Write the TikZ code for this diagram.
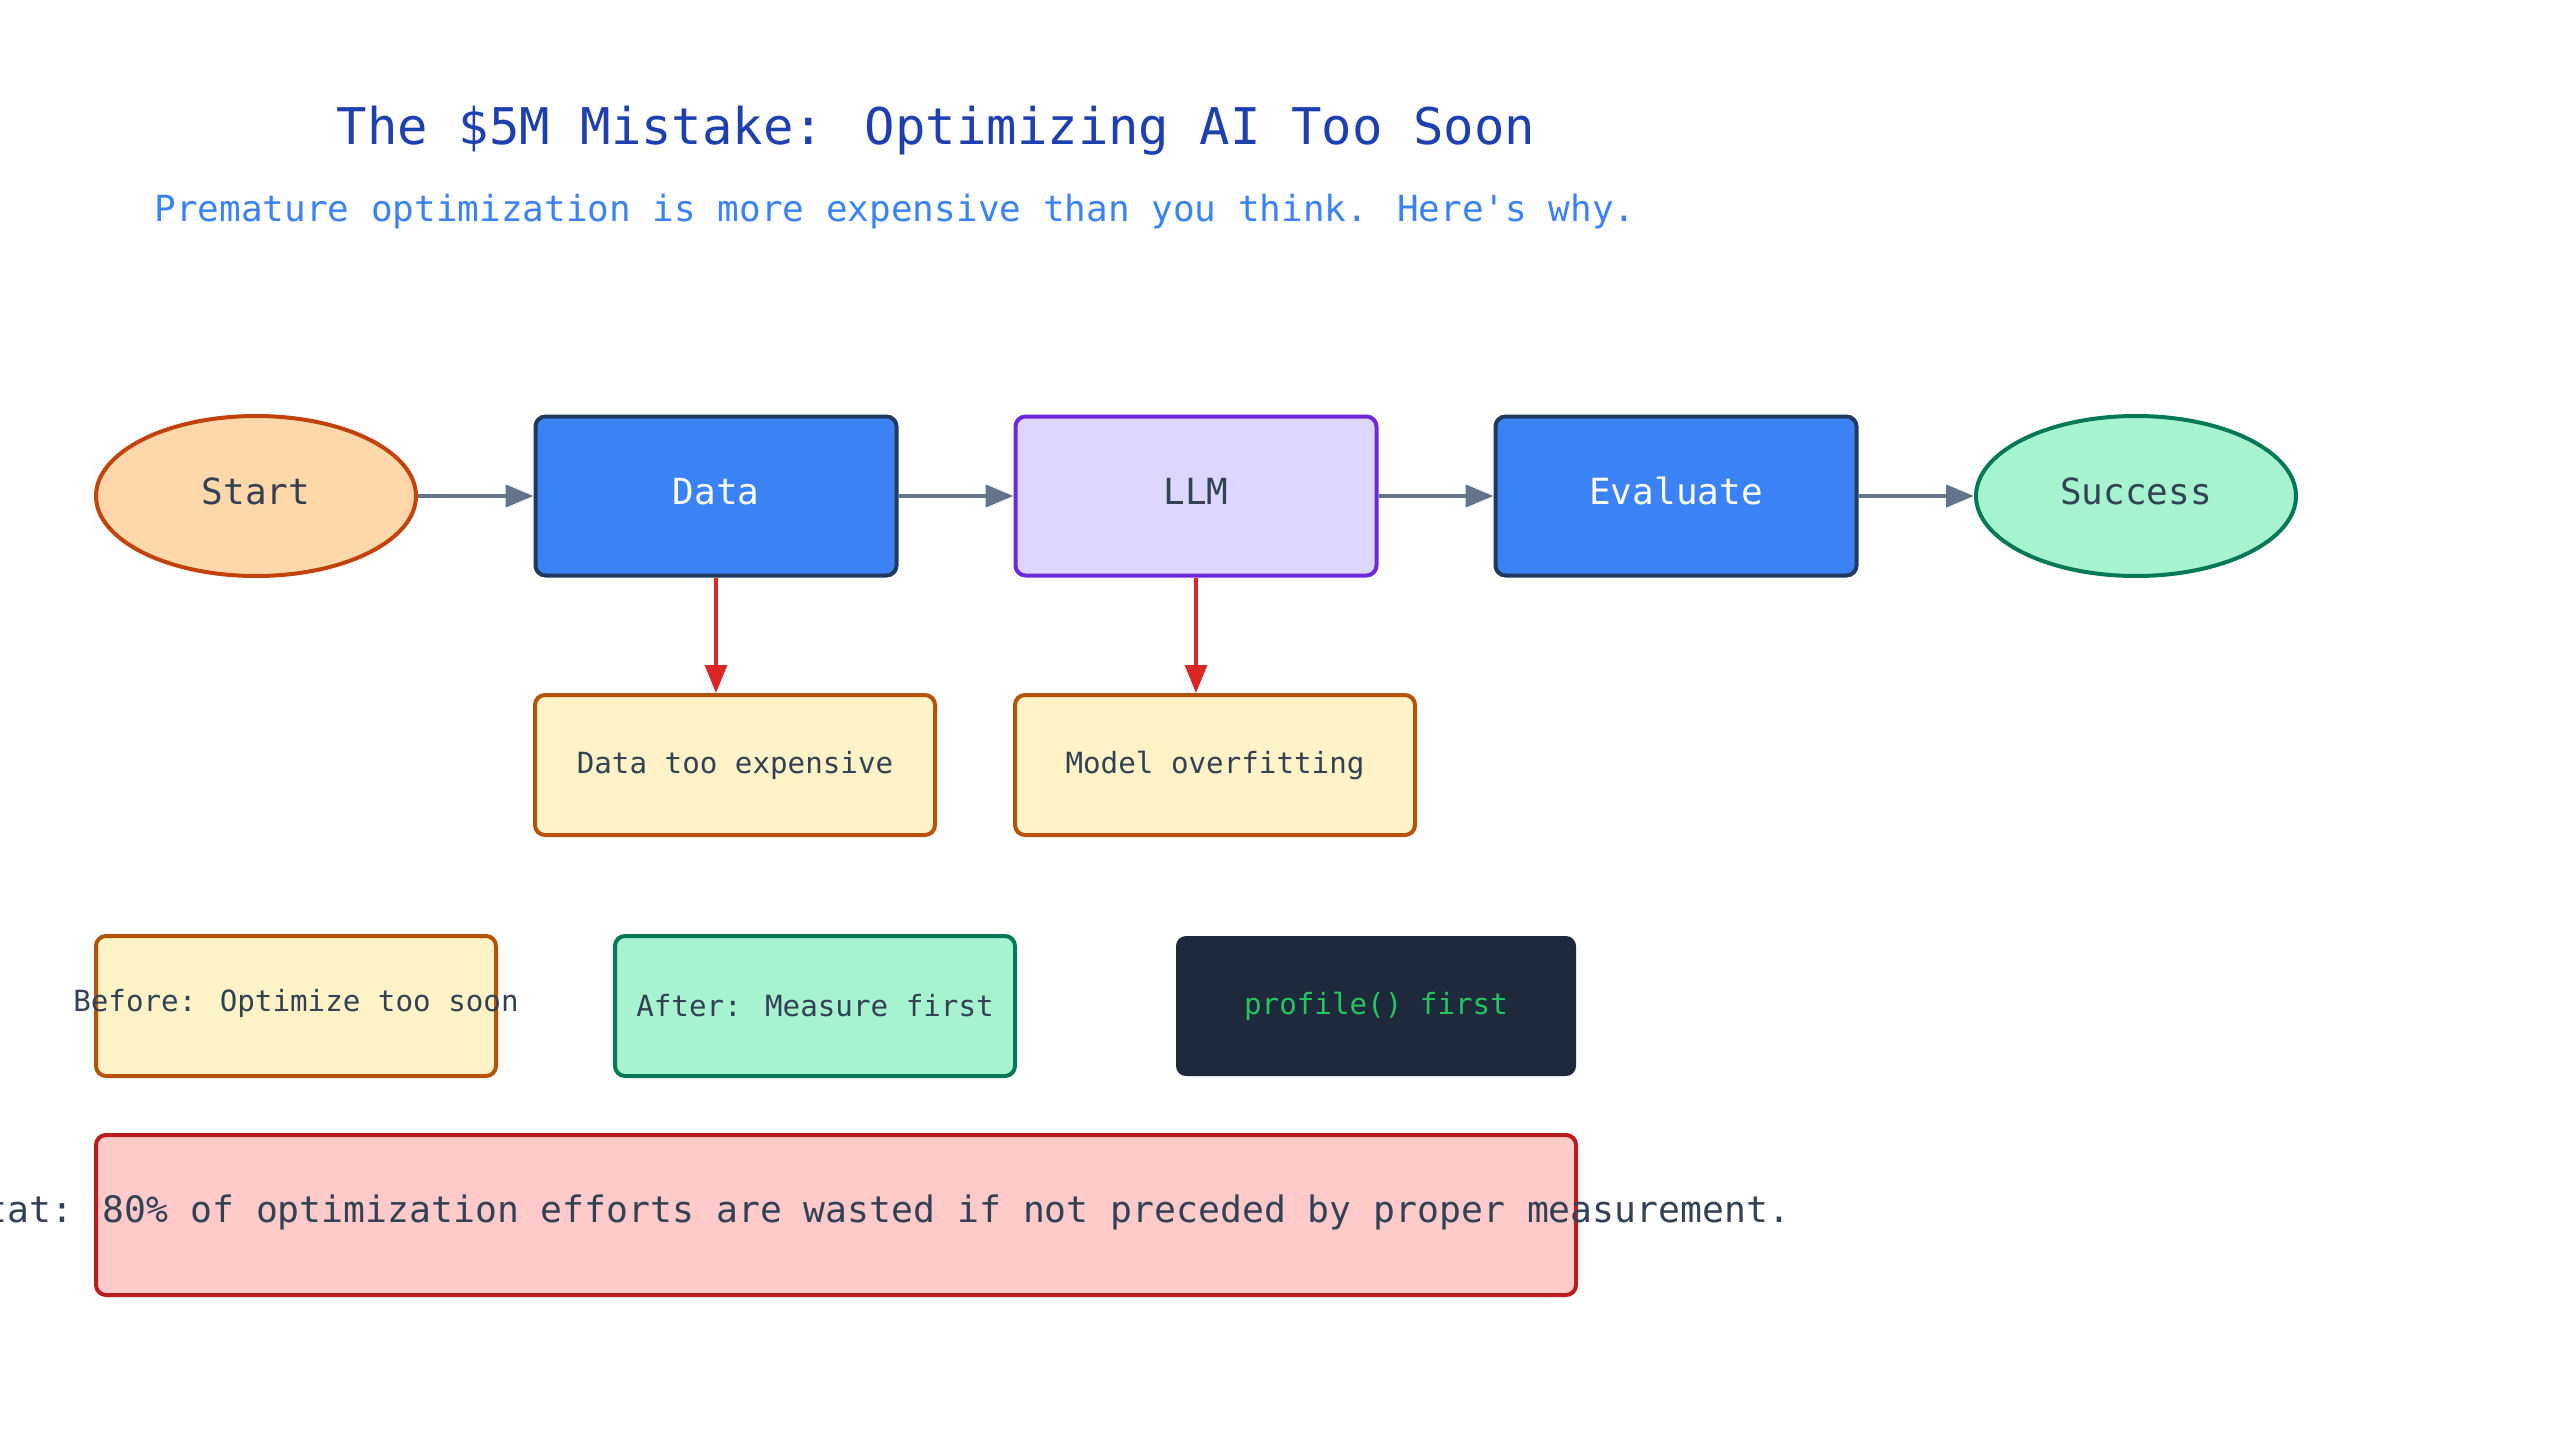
\documentclass[tikz,border=0pt]{standalone}
\usepackage{fontspec}
\setmainfont{DejaVu Sans Mono}
\usepackage{tikz}
\usetikzlibrary{arrows.meta,positioning,shapes.geometric}
\definecolor{titleblue}{HTML}{1E40AF}
\definecolor{subblue}{HTML}{3B82F6}
\definecolor{inkx}{HTML}{334155}
\definecolor{orfill}{HTML}{FED7AA}
\definecolor{orline}{HTML}{C2410C}
\definecolor{bluefill}{HTML}{3B82F6}
\definecolor{navyline}{HTML}{1E3A5F}
\definecolor{vifill}{HTML}{DDD6FE}
\definecolor{viline}{HTML}{6D28D9}
\definecolor{grfill}{HTML}{A7F3D0}
\definecolor{grline}{HTML}{047857}
\definecolor{ambfill}{HTML}{FEF3C7}
\definecolor{ambline}{HTML}{B45309}
\definecolor{slatebg}{HTML}{1E293B}
\definecolor{codegreen}{HTML}{22C55E}
\definecolor{redfill}{HTML}{FECACA}
\definecolor{redline}{HTML}{B91C1C}
\definecolor{redarr}{HTML}{DC2626}
\definecolor{grayarr}{HTML}{64748B}
\tikzset{
  flow/.style={-{Triangle[length=14pt,width=11pt]},line width=2.2pt,grayarr},
  warn/.style={-{Triangle[length=14pt,width=11pt]},line width=1.6pt,redarr},
  oval/.style={ellipse,draw,line width=2pt,minimum width=160pt,minimum height=80pt,inner sep=0pt,text height=13pt,text depth=5pt,font=\fontsize{18}{22}\selectfont,text=inkx},
  box/.style={draw,line width=2pt,rounded corners=5pt,minimum width=180.5pt,minimum height=79.5pt,inner sep=0pt,text height=13pt,text depth=5pt,font=\fontsize{18}{22}\selectfont},
  note/.style={draw=ambline,fill=ambfill,line width=2pt,rounded corners=5pt,minimum width=200pt,minimum height=70pt,inner sep=0pt},
  small/.style={font=\fontsize{14.6}{18}\selectfont,text=inkx}
}
\begin{document}
\begin{tikzpicture}[x=0.5pt,y=-0.5pt]
\useasboundingbox (0,0) rectangle (2560,1440);
% heading
\node[font=\fontsize{25.3}{30}\selectfont,text=titleblue] (title) at (936,131) {The \$5M Mistake: Optimizing AI Too Soon};
\node[font=\fontsize{18}{22}\selectfont,text=subblue] (sub) at (895,212) {Premature optimization is more expensive than you think. Here\textquotesingle s why.};
% main flow
\node[oval,fill=orfill,draw=orline] (start) at (256,496) {Start};
\node[box,fill=bluefill,draw=navyline,text=white] (data) at (716,496) {Data};
\node[box,fill=vifill,draw=viline,text=inkx] (llm) at (1196,496) {LLM};
\node[box,fill=bluefill,draw=navyline,text=white] (eval) at (1676,496) {Evaluate};
\node[oval,fill=grfill,draw=grline] (success) at (2136,496) {Success};
\node[note,small] (dte) at (735,765) {Data too expensive};
\node[note,small] (mof) at (1215,765) {Model overfitting};
\draw[flow] (start) -- (data);
\draw[flow] (data) -- (llm);
\draw[flow] (llm) -- (eval);
\draw[flow] (eval) -- (success);
\draw[warn] (data) -- (data |- dte.north);
\draw[warn] (llm) -- (llm |- mof.north);
% before / after
\node[note] (before) at (296,1006) {};
\node[small] (beforetxt) at (296,1003) {Before: Optimize too soon};
\node[note,draw=grline,fill=grfill,small] (after) at (815,1006) {After: Measure first};
\node[note,draw=none,fill=slatebg,font=\fontsize{14.6}{18}\selectfont,text=codegreen] (prof) at (1376,1006) {profile() first};
% stat
\node[draw=redline,fill=redfill,line width=2pt,rounded corners=5pt,minimum width=740pt,minimum height=80pt] (stat) at (836,1215) {};
\node[font=\fontsize{18.2}{22}\selectfont,text=inkx] (stattxt) at (877,1212) {Stat: 80\% of optimization efforts are wasted if not preceded by proper measurement.};
\end{tikzpicture}
\end{document}
